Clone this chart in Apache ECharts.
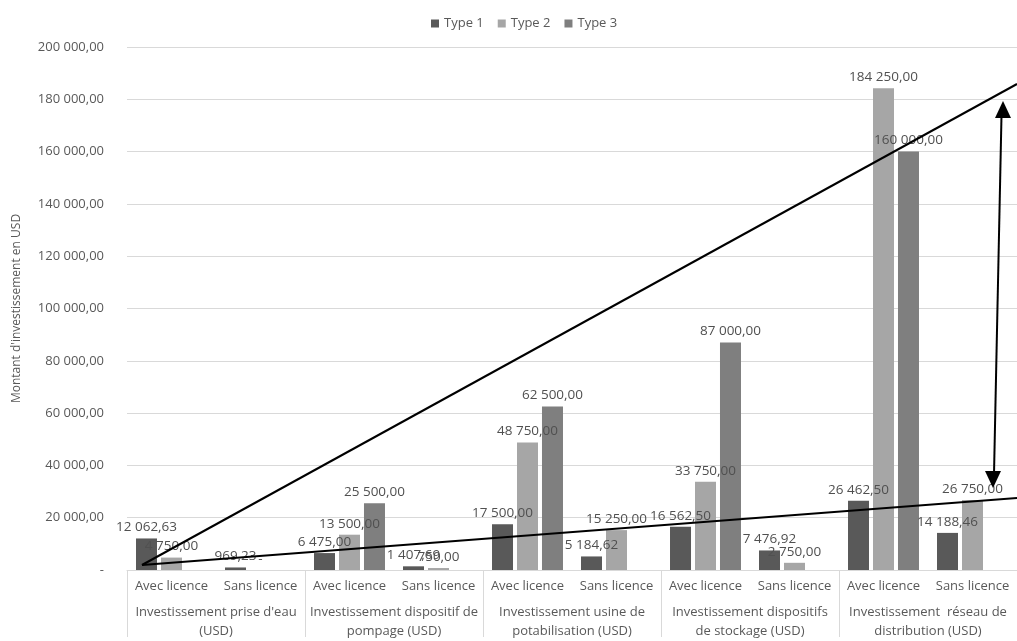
<!DOCTYPE html>
<html>
<head>
<meta charset="utf-8">
<script src="https://cdn.jsdelivr.net/npm/echarts@6/dist/echarts.min.js"></script>
<style>
  html, body { margin: 0; padding: 0; background: #ffffff; }
  #chart { width: 1017px; height: 641px; }
</style>
</head>
<body>
<div id="chart"></div>
<script>
// Sub-categories (one per bar cluster) and the investment groups they belong to
const licences = ['Avec licence', 'Sans licence', 'Avec licence', 'Sans licence', 'Avec licence',
                  'Sans licence', 'Avec licence', 'Sans licence', 'Avec licence', 'Sans licence'];
const groups = [
  "Investissement prise d'eau\n(USD)",
  'Investissement dispositif de\npompage (USD)',
  'Investissement usine de\npotabilisation (USD)',
  'Investissement dispositifs\nde stockage (USD)',
  'Investissement  réseau de\ndistribution (USD)'
];
const seriesNames = ['Type 1', 'Type 2', 'Type 3'];

// Amounts in USD, one value per sub-category
const type1 = [12062.63, 969.23, 6475.00, 1407.69, 17500.00, 5184.62, 16562.50, 7476.92, 26462.50, 14188.46];
const type2 = [4750.00, 0, 13500.00, 750.00, 48750.00, 15250.00, 33750.00, 2750.00, 184250.00, 26750.00];
const type3 = [null, null, 25500.00, null, 62500.00, null, 87000.00, null, 160000.00, null];

const colors = ['#595959', '#a6a6a6', '#7f7f7f'];
const FONT = 'Open Sans, Liberation Sans, sans-serif';

// "12 062,63" style number, "-" for zero
function fmt(v) {
  if (v === 0) return '-';
  const parts = Number(v).toFixed(2).split('.');
  return parts[0].replace(/\B(?=(\d{3})+(?!\d))/g, ' ') + ',' + parts[1];
}

const chart = echarts.init(document.getElementById('chart'), null, { renderer: 'canvas' });

function barSeries(name, data, color) {
  return {
    name: name,
    type: 'bar',
    data: data,
    barWidth: 21,
    barGap: '19%',
    itemStyle: { color: color },
    label: {
      show: true,
      position: 'top',
      distance: 4,
      color: '#505050',
      fontFamily: FONT,
      fontSize: 13.5,
      formatter: p => (p.value === null || p.value === undefined) ? '' : fmt(p.value)
    }
  };
}

// Hand-drawn annotation: two trend lines and a double-headed arrow
const ink = { stroke: '#000000', lineWidth: 2 };
const annotations = [
  { type: 'line', z: 100, shape: { x1: 142, y1: 565, x2: 1017, y2: 84 }, style: ink },
  { type: 'line', z: 100, shape: { x1: 142, y1: 565, x2: 1017, y2: 498 }, style: ink },
  { type: 'line', z: 100, shape: { x1: 1001.5, y1: 115, x2: 994, y2: 474 }, style: ink },
  { type: 'polygon', z: 100, shape: { points: [[1003, 101], [995, 118], [1011, 118]] }, style: { fill: '#000000' } },
  { type: 'polygon', z: 100, shape: { points: [[993, 488], [985, 471], [1001, 471]] }, style: { fill: '#000000' } }
];

chart.setOption({
  animation: false,
  backgroundColor: '#ffffff',
  color: colors,
  legend: {
    data: seriesNames,
    left: 426,
    top: 12,
    itemWidth: 8,
    itemHeight: 8,
    itemGap: 14,
    icon: 'rect',
    textStyle: { color: '#595959', fontFamily: FONT, fontSize: 13 }
  },
  grid: { left: 127, top: 47, width: 906, height: 527, containLabel: false },
  xAxis: [
    {
      type: 'category',
      data: licences,
      position: 'bottom',
      axisLine: { show: true, lineStyle: { color: '#d9d9d9', width: 1 } },
      axisTick: { show: false },
      axisLabel: { interval: 0, margin: 10, color: '#595959', fontFamily: FONT, fontSize: 13 }
    },
    {
      type: 'category',
      data: groups,
      position: 'bottom',
      axisLine: { show: false },
      axisTick: { show: true, length: 67, interval: 0, lineStyle: { color: '#d9d9d9', width: 1 } },
      axisLabel: { interval: 0, margin: 33, lineHeight: 19, color: '#595959', fontFamily: FONT, fontSize: 13 }
    }
  ],
  yAxis: {
    type: 'value',
    min: 0,
    max: 200000,
    interval: 20000,
    name: "Montant d'investissement en USD",
    nameLocation: 'middle',
    nameRotate: 90,
    nameGap: 104,
    nameTextStyle: { color: '#595959', fontFamily: FONT, fontSize: 12 },
    axisLine: { show: false },
    axisTick: { show: false },
    splitLine: { lineStyle: { color: '#d9d9d9', width: 1 } },
    axisLabel: { margin: 23, color: '#595959', fontFamily: FONT, fontSize: 13, formatter: v => fmt(v) }
  },
  series: [
    barSeries(seriesNames[0], type1, colors[0]),
    barSeries(seriesNames[1], type2, colors[1]),
    barSeries(seriesNames[2], type3, colors[2])
  ],
  graphic: annotations
});
</script>
</body>
</html>
